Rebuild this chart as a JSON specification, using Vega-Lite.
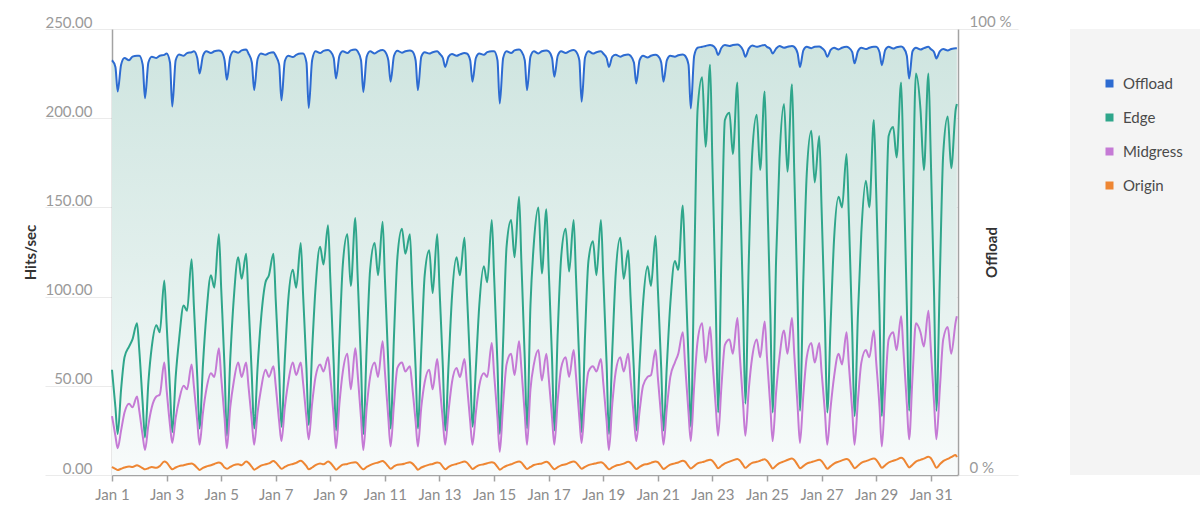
{
"$schema":"https://vega.github.io/schema/vega-lite/v6.json",
"autosize":{"type":"none"},
"width":846,"height":446,
"padding":{"left":112,"top":29,"right":242,"bottom":47},
"background":"white",
"config":{"font":"Lato","view":{"stroke":null}},
"data":{"values":[
{"t":"2024-01-01T00:00","Offload":93,"Edge":59,"Midgress":33,"Origin":4.5},
{"t":"2024-01-01T03:00","Offload":91.5,"Edge":38,"Midgress":22,"Origin":3.5},
{"t":"2024-01-01T05:00","Offload":86,"Edge":23,"Midgress":15,"Origin":2.8},
{"t":"2024-01-01T08:00","Offload":92,"Edge":48,"Midgress":25,"Origin":3.5},
{"t":"2024-01-01T11:00","Offload":93.5,"Edge":66,"Midgress":35,"Origin":4.2},
{"t":"2024-01-01T15:00","Offload":93,"Edge":72,"Midgress":40,"Origin":4.8},
{"t":"2024-01-01T18:00","Offload":93.8,"Edge":76,"Midgress":38,"Origin":4.5},
{"t":"2024-01-01T22:00","Offload":94,"Edge":85,"Midgress":44,"Origin":5.5},
{"t":"2024-01-02T00:00","Offload":94,"Edge":70,"Midgress":36,"Origin":5},
{"t":"2024-01-02T03:00","Offload":92,"Edge":40,"Midgress":22,"Origin":3.8},
{"t":"2024-01-02T05:00","Offload":84.5,"Edge":21,"Midgress":14,"Origin":3.2},
{"t":"2024-01-02T08:00","Offload":92.5,"Edge":52,"Midgress":28,"Origin":3.8},
{"t":"2024-01-02T11:00","Offload":93.8,"Edge":72,"Midgress":38,"Origin":4.5},
{"t":"2024-01-02T15:00","Offload":93.5,"Edge":84,"Midgress":44,"Origin":4},
{"t":"2024-01-02T18:00","Offload":94,"Edge":80,"Midgress":45,"Origin":5},
{"t":"2024-01-02T22:00","Offload":94.2,"Edge":109,"Midgress":63,"Origin":7.5},
{"t":"2024-01-03T00:00","Offload":94.5,"Edge":85,"Midgress":48,"Origin":7},
{"t":"2024-01-03T03:00","Offload":92.5,"Edge":48,"Midgress":28,"Origin":4.5},
{"t":"2024-01-03T05:00","Offload":82.6,"Edge":24,"Midgress":18,"Origin":3.2},
{"t":"2024-01-03T08:00","Offload":93,"Edge":55,"Midgress":32,"Origin":4.2},
{"t":"2024-01-03T11:00","Offload":94.3,"Edge":76,"Midgress":42,"Origin":5},
{"t":"2024-01-03T15:00","Offload":94,"Edge":95,"Midgress":50,"Origin":5.5},
{"t":"2024-01-03T18:00","Offload":94.6,"Edge":92,"Midgress":48,"Origin":6},
{"t":"2024-01-03T22:00","Offload":94.8,"Edge":121,"Midgress":62,"Origin":6.5},
{"t":"2024-01-04T00:00","Offload":95,"Edge":95,"Midgress":50,"Origin":5.8},
{"t":"2024-01-04T03:00","Offload":93.5,"Edge":55,"Midgress":30,"Origin":4},
{"t":"2024-01-04T05:00","Offload":90,"Edge":26,"Midgress":17,"Origin":2.8},
{"t":"2024-01-04T08:00","Offload":94,"Edge":62,"Midgress":35,"Origin":4},
{"t":"2024-01-04T11:00","Offload":95,"Edge":90,"Midgress":48,"Origin":4.8},
{"t":"2024-01-04T15:00","Offload":94.6,"Edge":112,"Midgress":57,"Origin":5.5},
{"t":"2024-01-04T18:00","Offload":95,"Edge":105,"Midgress":55,"Origin":6.2},
{"t":"2024-01-04T22:00","Offload":95.2,"Edge":135,"Midgress":71,"Origin":7},
{"t":"2024-01-05T00:00","Offload":95,"Edge":105,"Midgress":55,"Origin":6.5},
{"t":"2024-01-05T03:00","Offload":93,"Edge":60,"Midgress":32,"Origin":4.2},
{"t":"2024-01-05T05:00","Offload":88.6,"Edge":22,"Midgress":15,"Origin":3.5},
{"t":"2024-01-05T08:00","Offload":93.8,"Edge":65,"Midgress":38,"Origin":4.5},
{"t":"2024-01-05T11:00","Offload":95,"Edge":98,"Midgress":52,"Origin":5.5},
{"t":"2024-01-05T15:00","Offload":94.7,"Edge":122,"Midgress":63,"Origin":6},
{"t":"2024-01-05T18:00","Offload":95.2,"Edge":110,"Midgress":55,"Origin":5.5},
{"t":"2024-01-05T22:00","Offload":95.4,"Edge":124,"Midgress":63,"Origin":7.5},
{"t":"2024-01-06T00:00","Offload":94.5,"Edge":98,"Midgress":50,"Origin":6.8},
{"t":"2024-01-06T03:00","Offload":92.5,"Edge":55,"Midgress":30,"Origin":4.5},
{"t":"2024-01-06T05:00","Offload":86.3,"Edge":26,"Midgress":17,"Origin":3},
{"t":"2024-01-06T08:00","Offload":93.2,"Edge":60,"Midgress":35,"Origin":4},
{"t":"2024-01-06T11:00","Offload":94.5,"Edge":87,"Midgress":48,"Origin":5.2},
{"t":"2024-01-06T15:00","Offload":94.2,"Edge":108,"Midgress":59,"Origin":6},
{"t":"2024-01-06T18:00","Offload":94.6,"Edge":112,"Midgress":55,"Origin":6.5},
{"t":"2024-01-06T22:00","Offload":94.8,"Edge":124,"Midgress":61,"Origin":7.8},
{"t":"2024-01-07T00:00","Offload":94,"Edge":98,"Midgress":50,"Origin":7},
{"t":"2024-01-07T03:00","Offload":92,"Edge":58,"Midgress":30,"Origin":4.8},
{"t":"2024-01-07T05:00","Offload":84,"Edge":27,"Midgress":19,"Origin":3.5},
{"t":"2024-01-07T08:00","Offload":92.8,"Edge":65,"Midgress":38,"Origin":4.5},
{"t":"2024-01-07T11:00","Offload":94,"Edge":98,"Midgress":52,"Origin":5.5},
{"t":"2024-01-07T15:00","Offload":93.7,"Edge":115,"Midgress":63,"Origin":6.2},
{"t":"2024-01-07T18:00","Offload":94.2,"Edge":105,"Midgress":56,"Origin":6.8},
{"t":"2024-01-07T22:00","Offload":94.5,"Edge":130,"Midgress":63,"Origin":8},
{"t":"2024-01-08T00:00","Offload":94.5,"Edge":102,"Midgress":52,"Origin":7.2},
{"t":"2024-01-08T03:00","Offload":92.5,"Edge":60,"Midgress":32,"Origin":5},
{"t":"2024-01-08T05:00","Offload":82.3,"Edge":28,"Midgress":20,"Origin":3.2},
{"t":"2024-01-08T08:00","Offload":93,"Edge":70,"Midgress":40,"Origin":4.2},
{"t":"2024-01-08T11:00","Offload":95,"Edge":105,"Midgress":55,"Origin":5.5},
{"t":"2024-01-08T15:00","Offload":94.6,"Edge":128,"Midgress":62,"Origin":6.5},
{"t":"2024-01-08T18:00","Offload":95.1,"Edge":118,"Midgress":58,"Origin":6},
{"t":"2024-01-08T22:00","Offload":95.3,"Edge":140,"Midgress":66,"Origin":7.5},
{"t":"2024-01-09T00:00","Offload":95,"Edge":110,"Midgress":55,"Origin":6.8},
{"t":"2024-01-09T03:00","Offload":93.5,"Edge":62,"Midgress":32,"Origin":4.5},
{"t":"2024-01-09T05:00","Offload":88.9,"Edge":25,"Midgress":15,"Origin":3},
{"t":"2024-01-09T08:00","Offload":94,"Edge":75,"Midgress":40,"Origin":4.5},
{"t":"2024-01-09T11:00","Offload":95,"Edge":118,"Midgress":58,"Origin":5.8},
{"t":"2024-01-09T15:00","Offload":94.6,"Edge":135,"Midgress":68,"Origin":6.2},
{"t":"2024-01-09T18:00","Offload":95.2,"Edge":106,"Midgress":48,"Origin":6.8},
{"t":"2024-01-09T22:00","Offload":95.4,"Edge":144,"Midgress":71,"Origin":7.2},
{"t":"2024-01-10T00:00","Offload":95,"Edge":112,"Midgress":57,"Origin":6.5},
{"t":"2024-01-10T03:00","Offload":93,"Edge":62,"Midgress":32,"Origin":4.2},
{"t":"2024-01-10T05:00","Offload":85.9,"Edge":23,"Midgress":14,"Origin":3.2},
{"t":"2024-01-10T08:00","Offload":93.8,"Edge":72,"Midgress":38,"Origin":4.5},
{"t":"2024-01-10T11:00","Offload":95,"Edge":115,"Midgress":55,"Origin":5.5},
{"t":"2024-01-10T15:00","Offload":94.5,"Edge":130,"Midgress":63,"Origin":6.5},
{"t":"2024-01-10T18:00","Offload":95,"Edge":112,"Midgress":55,"Origin":7},
{"t":"2024-01-10T22:00","Offload":95.3,"Edge":142,"Midgress":75,"Origin":7.8},
{"t":"2024-01-11T00:00","Offload":95,"Edge":110,"Midgress":58,"Origin":7},
{"t":"2024-01-11T03:00","Offload":93,"Edge":62,"Midgress":32,"Origin":4.8},
{"t":"2024-01-11T05:00","Offload":88.2,"Edge":26,"Midgress":16,"Origin":3.5},
{"t":"2024-01-11T08:00","Offload":94,"Edge":78,"Midgress":40,"Origin":4.8},
{"t":"2024-01-11T11:00","Offload":95.1,"Edge":122,"Midgress":60,"Origin":5.8},
{"t":"2024-01-11T15:00","Offload":94.7,"Edge":138,"Midgress":63,"Origin":6},
{"t":"2024-01-11T18:00","Offload":95,"Edge":124,"Midgress":58,"Origin":6.5},
{"t":"2024-01-11T22:00","Offload":95.2,"Edge":135,"Midgress":61,"Origin":7.2},
{"t":"2024-01-12T00:00","Offload":95,"Edge":105,"Midgress":50,"Origin":6.5},
{"t":"2024-01-12T03:00","Offload":93,"Edge":60,"Midgress":30,"Origin":4.5},
{"t":"2024-01-12T05:00","Offload":86.3,"Edge":26,"Midgress":16,"Origin":3},
{"t":"2024-01-12T08:00","Offload":93.8,"Edge":70,"Midgress":38,"Origin":4.2},
{"t":"2024-01-12T11:00","Offload":94.8,"Edge":112,"Midgress":52,"Origin":5},
{"t":"2024-01-12T15:00","Offload":94.5,"Edge":126,"Midgress":59,"Origin":5.8},
{"t":"2024-01-12T18:00","Offload":94.8,"Edge":102,"Midgress":48,"Origin":6.2},
{"t":"2024-01-12T22:00","Offload":95,"Edge":135,"Midgress":65,"Origin":7},
{"t":"2024-01-13T00:00","Offload":94.5,"Edge":105,"Midgress":52,"Origin":6.8},
{"t":"2024-01-13T03:00","Offload":93.5,"Edge":60,"Midgress":30,"Origin":4.6},
{"t":"2024-01-13T05:00","Offload":91.5,"Edge":25,"Midgress":17,"Origin":3.2},
{"t":"2024-01-13T08:00","Offload":93.8,"Edge":62,"Midgress":36,"Origin":4.5},
{"t":"2024-01-13T11:00","Offload":94.4,"Edge":100,"Midgress":52,"Origin":5.5},
{"t":"2024-01-13T15:00","Offload":94,"Edge":122,"Midgress":60,"Origin":6.2},
{"t":"2024-01-13T18:00","Offload":94.3,"Edge":112,"Midgress":55,"Origin":6.8},
{"t":"2024-01-13T22:00","Offload":94.6,"Edge":133,"Midgress":65,"Origin":7.5},
{"t":"2024-01-14T00:00","Offload":94.5,"Edge":104,"Midgress":52,"Origin":7},
{"t":"2024-01-14T03:00","Offload":93,"Edge":60,"Midgress":30,"Origin":4.8},
{"t":"2024-01-14T05:00","Offload":88.2,"Edge":27,"Midgress":17,"Origin":3.3},
{"t":"2024-01-14T08:00","Offload":93.5,"Edge":60,"Midgress":35,"Origin":4.5},
{"t":"2024-01-14T11:00","Offload":94.5,"Edge":95,"Midgress":50,"Origin":5.5},
{"t":"2024-01-14T15:00","Offload":94.2,"Edge":117,"Midgress":57,"Origin":6},
{"t":"2024-01-14T18:00","Offload":94.8,"Edge":108,"Midgress":55,"Origin":6.6},
{"t":"2024-01-14T22:00","Offload":95,"Edge":143,"Midgress":74,"Origin":7.2},
{"t":"2024-01-15T00:00","Offload":95,"Edge":112,"Midgress":57,"Origin":6.8},
{"t":"2024-01-15T03:00","Offload":93,"Edge":62,"Midgress":32,"Origin":4.5},
{"t":"2024-01-15T05:00","Offload":83.3,"Edge":23,"Midgress":13,"Origin":3},
{"t":"2024-01-15T08:00","Offload":93.5,"Edge":75,"Midgress":40,"Origin":4.2},
{"t":"2024-01-15T11:00","Offload":95,"Edge":128,"Midgress":62,"Origin":5.2},
{"t":"2024-01-15T15:00","Offload":94.6,"Edge":143,"Midgress":68,"Origin":6},
{"t":"2024-01-15T18:00","Offload":95.2,"Edge":122,"Midgress":56,"Origin":6.8},
{"t":"2024-01-15T22:00","Offload":95.4,"Edge":156,"Midgress":75,"Origin":7.6},
{"t":"2024-01-16T00:00","Offload":95,"Edge":120,"Midgress":60,"Origin":7},
{"t":"2024-01-16T03:00","Offload":93,"Edge":65,"Midgress":34,"Origin":4.6},
{"t":"2024-01-16T05:00","Offload":86.3,"Edge":26,"Midgress":17,"Origin":3.4},
{"t":"2024-01-16T08:00","Offload":93.8,"Edge":95,"Midgress":48,"Origin":4.5},
{"t":"2024-01-16T11:00","Offload":95,"Edge":130,"Midgress":62,"Origin":5.6},
{"t":"2024-01-16T15:00","Offload":94.5,"Edge":150,"Midgress":70,"Origin":6.2},
{"t":"2024-01-16T18:00","Offload":95,"Edge":113,"Midgress":53,"Origin":6.5},
{"t":"2024-01-16T22:00","Offload":95.2,"Edge":149,"Midgress":68,"Origin":7.4},
{"t":"2024-01-17T00:00","Offload":95,"Edge":116,"Midgress":55,"Origin":6.8},
{"t":"2024-01-17T03:00","Offload":93.5,"Edge":65,"Midgress":32,"Origin":4.4},
{"t":"2024-01-17T05:00","Offload":89.3,"Edge":25,"Midgress":17,"Origin":3.2},
{"t":"2024-01-17T08:00","Offload":94,"Edge":80,"Midgress":42,"Origin":4.4},
{"t":"2024-01-17T11:00","Offload":95,"Edge":122,"Midgress":60,"Origin":5.4},
{"t":"2024-01-17T15:00","Offload":94.6,"Edge":138,"Midgress":66,"Origin":6},
{"t":"2024-01-17T18:00","Offload":95,"Edge":114,"Midgress":55,"Origin":6.8},
{"t":"2024-01-17T22:00","Offload":95.3,"Edge":143,"Midgress":70,"Origin":7.5},
{"t":"2024-01-18T00:00","Offload":95,"Edge":112,"Midgress":56,"Origin":7},
{"t":"2024-01-18T03:00","Offload":93,"Edge":62,"Midgress":32,"Origin":4.8},
{"t":"2024-01-18T05:00","Offload":83.7,"Edge":24,"Midgress":18,"Origin":3.5},
{"t":"2024-01-18T08:00","Offload":93.6,"Edge":78,"Midgress":42,"Origin":4.6},
{"t":"2024-01-18T11:00","Offload":95,"Edge":120,"Midgress":58,"Origin":5.5},
{"t":"2024-01-18T15:00","Offload":94.5,"Edge":131,"Midgress":61,"Origin":6.2},
{"t":"2024-01-18T18:00","Offload":94.8,"Edge":112,"Midgress":58,"Origin":6.6},
{"t":"2024-01-18T22:00","Offload":95,"Edge":143,"Midgress":65,"Origin":7.2},
{"t":"2024-01-19T00:00","Offload":94.5,"Edge":112,"Midgress":52,"Origin":6.6},
{"t":"2024-01-19T03:00","Offload":93.5,"Edge":62,"Midgress":30,"Origin":4.5},
{"t":"2024-01-19T05:00","Offload":91.5,"Edge":23,"Midgress":14,"Origin":3.2},
{"t":"2024-01-19T08:00","Offload":93.8,"Edge":70,"Midgress":40,"Origin":4.3},
{"t":"2024-01-19T11:00","Offload":94.2,"Edge":113,"Midgress":58,"Origin":5.2},
{"t":"2024-01-19T15:00","Offload":93.8,"Edge":133,"Midgress":66,"Origin":5.8},
{"t":"2024-01-19T18:00","Offload":94.1,"Edge":110,"Midgress":58,"Origin":6.4},
{"t":"2024-01-19T22:00","Offload":94.3,"Edge":126,"Midgress":68,"Origin":7.4},
{"t":"2024-01-20T00:00","Offload":94,"Edge":100,"Midgress":54,"Origin":6.8},
{"t":"2024-01-20T03:00","Offload":92.5,"Edge":58,"Midgress":32,"Origin":4.6},
{"t":"2024-01-20T05:00","Offload":87.8,"Edge":25,"Midgress":19,"Origin":3.3},
{"t":"2024-01-20T08:00","Offload":93,"Edge":62,"Midgress":36,"Origin":4.5},
{"t":"2024-01-20T11:00","Offload":94,"Edge":96,"Midgress":50,"Origin":5.6},
{"t":"2024-01-20T15:00","Offload":93.6,"Edge":117,"Midgress":55,"Origin":6.2},
{"t":"2024-01-20T18:00","Offload":94,"Edge":106,"Midgress":56,"Origin":6.8},
{"t":"2024-01-20T22:00","Offload":94.2,"Edge":134,"Midgress":70,"Origin":7.6},
{"t":"2024-01-21T00:00","Offload":94,"Edge":105,"Midgress":55,"Origin":7.2},
{"t":"2024-01-21T03:00","Offload":92.5,"Edge":60,"Midgress":32,"Origin":4.8},
{"t":"2024-01-21T05:00","Offload":88.2,"Edge":25,"Midgress":17,"Origin":3.4},
{"t":"2024-01-21T08:00","Offload":93,"Edge":62,"Midgress":38,"Origin":4.6},
{"t":"2024-01-21T11:00","Offload":94,"Edge":96,"Midgress":55,"Origin":5.8},
{"t":"2024-01-21T15:00","Offload":93.8,"Edge":120,"Midgress":63,"Origin":6.5},
{"t":"2024-01-21T18:00","Offload":94.1,"Edge":115,"Midgress":68,"Origin":7},
{"t":"2024-01-21T22:00","Offload":94.3,"Edge":151,"Midgress":80,"Origin":8},
{"t":"2024-01-22T00:00","Offload":94,"Edge":118,"Midgress":62,"Origin":7.5},
{"t":"2024-01-22T03:00","Offload":92,"Edge":65,"Midgress":35,"Origin":5},
{"t":"2024-01-22T05:00","Offload":82.2,"Edge":27,"Midgress":19,"Origin":3.6},
{"t":"2024-01-22T08:00","Offload":94,"Edge":115,"Midgress":50,"Origin":5},
{"t":"2024-01-22T11:00","Offload":95.8,"Edge":205,"Midgress":75,"Origin":6.5},
{"t":"2024-01-22T15:00","Offload":96,"Edge":223,"Midgress":85,"Origin":7.2},
{"t":"2024-01-22T18:00","Offload":96.2,"Edge":184,"Midgress":63,"Origin":7.8},
{"t":"2024-01-22T22:00","Offload":96.4,"Edge":230,"Midgress":83,"Origin":8.6},
{"t":"2024-01-23T00:00","Offload":96.3,"Edge":175,"Midgress":65,"Origin":8},
{"t":"2024-01-23T03:00","Offload":95.5,"Edge":95,"Midgress":38,"Origin":5.5},
{"t":"2024-01-23T05:00","Offload":94.2,"Edge":35,"Midgress":22,"Origin":3.8},
{"t":"2024-01-23T08:00","Offload":95.8,"Edge":125,"Midgress":50,"Origin":5.2},
{"t":"2024-01-23T11:00","Offload":96.4,"Edge":199,"Midgress":73,"Origin":6.5},
{"t":"2024-01-23T15:00","Offload":96.2,"Edge":203,"Midgress":76,"Origin":7.5},
{"t":"2024-01-23T18:00","Offload":96.4,"Edge":180,"Midgress":68,"Origin":8.2},
{"t":"2024-01-23T22:00","Offload":96.5,"Edge":220,"Midgress":88,"Origin":9},
{"t":"2024-01-24T00:00","Offload":96.3,"Edge":170,"Midgress":68,"Origin":8.2},
{"t":"2024-01-24T03:00","Offload":95.2,"Edge":95,"Midgress":40,"Origin":5.6},
{"t":"2024-01-24T05:00","Offload":93.8,"Edge":40,"Midgress":22,"Origin":4},
{"t":"2024-01-24T08:00","Offload":95.6,"Edge":120,"Midgress":48,"Origin":5.5},
{"t":"2024-01-24T11:00","Offload":96.3,"Edge":180,"Midgress":66,"Origin":6.8},
{"t":"2024-01-24T15:00","Offload":96,"Edge":202,"Midgress":76,"Origin":7.4},
{"t":"2024-01-24T18:00","Offload":96.2,"Edge":171,"Midgress":66,"Origin":8},
{"t":"2024-01-24T22:00","Offload":96.4,"Edge":215,"Midgress":86,"Origin":8.8},
{"t":"2024-01-25T00:00","Offload":96,"Edge":165,"Midgress":66,"Origin":8},
{"t":"2024-01-25T03:00","Offload":95.5,"Edge":90,"Midgress":38,"Origin":5.4},
{"t":"2024-01-25T05:00","Offload":94.5,"Edge":35,"Midgress":19,"Origin":3.6},
{"t":"2024-01-25T08:00","Offload":95.6,"Edge":120,"Midgress":46,"Origin":5.2},
{"t":"2024-01-25T11:00","Offload":96.2,"Edge":177,"Midgress":66,"Origin":6.6},
{"t":"2024-01-25T15:00","Offload":95.8,"Edge":208,"Midgress":81,"Origin":7.6},
{"t":"2024-01-25T18:00","Offload":96,"Edge":170,"Midgress":68,"Origin":8.4},
{"t":"2024-01-25T22:00","Offload":96.2,"Edge":219,"Midgress":88,"Origin":9.2},
{"t":"2024-01-26T00:00","Offload":96,"Edge":170,"Midgress":68,"Origin":8.4},
{"t":"2024-01-26T03:00","Offload":94.5,"Edge":95,"Midgress":38,"Origin":5.6},
{"t":"2024-01-26T05:00","Offload":91.5,"Edge":36,"Midgress":18,"Origin":3.8},
{"t":"2024-01-26T08:00","Offload":95.2,"Edge":110,"Midgress":45,"Origin":5},
{"t":"2024-01-26T11:00","Offload":96,"Edge":169,"Midgress":66,"Origin":6.4},
{"t":"2024-01-26T15:00","Offload":95.7,"Edge":193,"Midgress":74,"Origin":7.2},
{"t":"2024-01-26T18:00","Offload":96,"Edge":164,"Midgress":63,"Origin":7.8},
{"t":"2024-01-26T22:00","Offload":96.1,"Edge":190,"Midgress":74,"Origin":8.5},
{"t":"2024-01-27T00:00","Offload":95.8,"Edge":150,"Midgress":58,"Origin":7.8},
{"t":"2024-01-27T03:00","Offload":95,"Edge":85,"Midgress":35,"Origin":5.2},
{"t":"2024-01-27T05:00","Offload":93.8,"Edge":35,"Midgress":17,"Origin":3.5},
{"t":"2024-01-27T08:00","Offload":95.3,"Edge":85,"Midgress":38,"Origin":5},
{"t":"2024-01-27T11:00","Offload":95.8,"Edge":132,"Midgress":55,"Origin":6.4},
{"t":"2024-01-27T15:00","Offload":95.4,"Edge":156,"Midgress":68,"Origin":7.5},
{"t":"2024-01-27T18:00","Offload":95.8,"Edge":150,"Midgress":62,"Origin":8.2},
{"t":"2024-01-27T22:00","Offload":96,"Edge":180,"Midgress":80,"Origin":9},
{"t":"2024-01-28T00:00","Offload":95.8,"Edge":145,"Midgress":62,"Origin":8.4},
{"t":"2024-01-28T03:00","Offload":94.8,"Edge":80,"Midgress":36,"Origin":5.6},
{"t":"2024-01-28T05:00","Offload":92.3,"Edge":33,"Midgress":17,"Origin":3.8},
{"t":"2024-01-28T08:00","Offload":95,"Edge":90,"Midgress":42,"Origin":5.2},
{"t":"2024-01-28T11:00","Offload":95.8,"Edge":136,"Midgress":63,"Origin":6.8},
{"t":"2024-01-28T15:00","Offload":95.5,"Edge":165,"Midgress":70,"Origin":7.8},
{"t":"2024-01-28T18:00","Offload":95.8,"Edge":150,"Midgress":66,"Origin":8.5},
{"t":"2024-01-28T22:00","Offload":96,"Edge":199,"Midgress":81,"Origin":9.2},
{"t":"2024-01-29T00:00","Offload":96,"Edge":160,"Midgress":64,"Origin":8.6},
{"t":"2024-01-29T03:00","Offload":94.8,"Edge":90,"Midgress":38,"Origin":5.8},
{"t":"2024-01-29T05:00","Offload":91.9,"Edge":33,"Midgress":16,"Origin":4},
{"t":"2024-01-29T08:00","Offload":95.3,"Edge":120,"Midgress":48,"Origin":5.5},
{"t":"2024-01-29T11:00","Offload":96,"Edge":190,"Midgress":76,"Origin":7},
{"t":"2024-01-29T15:00","Offload":95.6,"Edge":195,"Midgress":80,"Origin":8},
{"t":"2024-01-29T18:00","Offload":95.9,"Edge":178,"Midgress":70,"Origin":8.6},
{"t":"2024-01-29T22:00","Offload":96.1,"Edge":220,"Midgress":89,"Origin":9.6},
{"t":"2024-01-30T00:00","Offload":95.8,"Edge":175,"Midgress":70,"Origin":9},
{"t":"2024-01-30T03:00","Offload":94,"Edge":95,"Midgress":40,"Origin":6},
{"t":"2024-01-30T05:00","Offload":88.9,"Edge":36,"Midgress":20,"Origin":4.2},
{"t":"2024-01-30T08:00","Offload":95,"Edge":140,"Midgress":55,"Origin":5.8},
{"t":"2024-01-30T11:00","Offload":95.8,"Edge":225,"Midgress":85,"Origin":7.5},
{"t":"2024-01-30T15:00","Offload":95.4,"Edge":205,"Midgress":80,"Origin":8.5},
{"t":"2024-01-30T18:00","Offload":95.7,"Edge":171,"Midgress":72,"Origin":9.2},
{"t":"2024-01-30T22:00","Offload":96,"Edge":225,"Midgress":92,"Origin":10.2},
{"t":"2024-01-31T00:00","Offload":95.5,"Edge":180,"Midgress":72,"Origin":9.5},
{"t":"2024-01-31T03:00","Offload":94.8,"Edge":100,"Midgress":40,"Origin":6.2},
{"t":"2024-01-31T05:00","Offload":93.4,"Edge":36,"Midgress":20,"Origin":4},
{"t":"2024-01-31T08:00","Offload":95,"Edge":110,"Midgress":48,"Origin":6},
{"t":"2024-01-31T11:00","Offload":95.5,"Edge":180,"Midgress":76,"Origin":7.8},
{"t":"2024-01-31T15:00","Offload":95.2,"Edge":201,"Midgress":83,"Origin":9},
{"t":"2024-01-31T18:00","Offload":95.5,"Edge":172,"Midgress":68,"Origin":10},
{"t":"2024-01-31T22:00","Offload":95.7,"Edge":205,"Midgress":86,"Origin":11.2},
{"t":"2024-01-31T23:00","Offload":95.7,"Edge":208,"Midgress":89,"Origin":10}
]},
"layer":[
{
"mark":{"type":"area","interpolate":"monotone","color":{"gradient":"linear","x1":0,"y1":0,"x2":0,"y2":1,"stops":[{"offset":0,"color":"#cfe5e0"},{"offset":0.5,"color":"#e1efec"},{"offset":1,"color":"#f8fbfb"}]}},
"encoding":{
"x":{"field":"t","type":"temporal","scale":{"domain":[{"year":2024,"month":1,"date":1},{"year":2024,"month":2,"date":1}],"nice":false},
"axis":{"title":null,"format":"%b %-d","values":[{"year":2024,"month":1,"date":1},{"year":2024,"month":1,"date":3},{"year":2024,"month":1,"date":5},{"year":2024,"month":1,"date":7},{"year":2024,"month":1,"date":9},{"year":2024,"month":1,"date":11},{"year":2024,"month":1,"date":13},{"year":2024,"month":1,"date":15},{"year":2024,"month":1,"date":17},{"year":2024,"month":1,"date":19},{"year":2024,"month":1,"date":21},{"year":2024,"month":1,"date":23},{"year":2024,"month":1,"date":25},{"year":2024,"month":1,"date":27},{"year":2024,"month":1,"date":29},{"year":2024,"month":1,"date":31}],"grid":false,"labelFlush":false,"domainColor":"#a3a3a3","domainWidth":1.5,"tickColor":"#a3a3a3","tickWidth":1.5,"tickSize":6,"labelColor":"#8c8c8c","labelFontSize":15,"labelPadding":6,"labelOverlap":false}},
"y":{"field":"Offload","type":"quantitative","scale":{"domain":[0,100],"nice":false},
"axis":{"orient":"right","values":[0,100],"labelExpr":"datum.value + ' %'","title":"Offload","grid":false,"domainColor":"#a3a3a3","domainWidth":1.5,"tickColor":"#ebebeb","tickWidth":1,"tickSize":60,"labelPadding":-49,"labelAlign":"left","labelBaseline":"alphabetic","labelOffset":-3,"labelColor":"#9a9a9a","labelFontSize":15,"titleAngle":-90,"titleBaseline":"middle","titleX":33,"titleFontSize":15,"titleFontWeight":"bold","titleColor":"#333333"}}
}
},
{
"transform":[{"fold":["Edge","Midgress","Origin"],"as":["series","v"]}],
"mark":{"type":"line","strokeWidth":2,"interpolate":"monotone"},
"encoding":{
"x":{"field":"t","type":"temporal"},
"y":{"field":"v","type":"quantitative","scale":{"domain":[0,250],"nice":false},
"axis":{"orient":"left","values":[0,50,100,150,200,250],"format":".2f","title":"Hits/sec","grid":true,"gridColor":"#ebebeb","gridWidth":1,"domainColor":"#a3a3a3","domainWidth":1.5,"tickColor":"#ebebeb","tickWidth":1,"tickSize":67,"labelPadding":-47,"labelAlign":"right","labelBaseline":"alphabetic","labelOffset":-2,"labelColor":"#9a9a9a","labelFontSize":15,"titleAngle":-90,"titleBaseline":"middle","titleX":-82,"titleFontSize":15,"titleFontWeight":"bold","titleColor":"#333333"}},
"color":{"field":"series","type":"nominal","scale":{"domain":["Offload","Edge","Midgress","Origin"],"range":["#2d6bd1","#2fa68b","#c57ad5","#ee8633"]},
"legend":{"orient":"none","legendX":958,"legendY":0,"padding":47,"fillColor":"#f4f4f4","strokeColor":null,"title":" ","titleOrient":"bottom","titlePadding":231,"titleFontSize":1,"symbolType":"square","symbolSize":16,"symbolStrokeWidth":4,"symbolOffset":-15,"labelOffset":6,"labelFontSize":15,"labelColor":"#4a4a4a","rowPadding":13}}
}
},
{
"transform":[{"fold":["Offload"],"as":["series","v"]}],
"mark":{"type":"line","strokeWidth":2,"interpolate":"monotone"},
"encoding":{
"x":{"field":"t","type":"temporal"},
"y":{"field":"v","type":"quantitative","scale":{"domain":[0,100],"nice":false},"axis":null},
"color":{"field":"series","type":"nominal"}
}
}
],
"resolve":{"scale":{"y":"independent"}}
}
